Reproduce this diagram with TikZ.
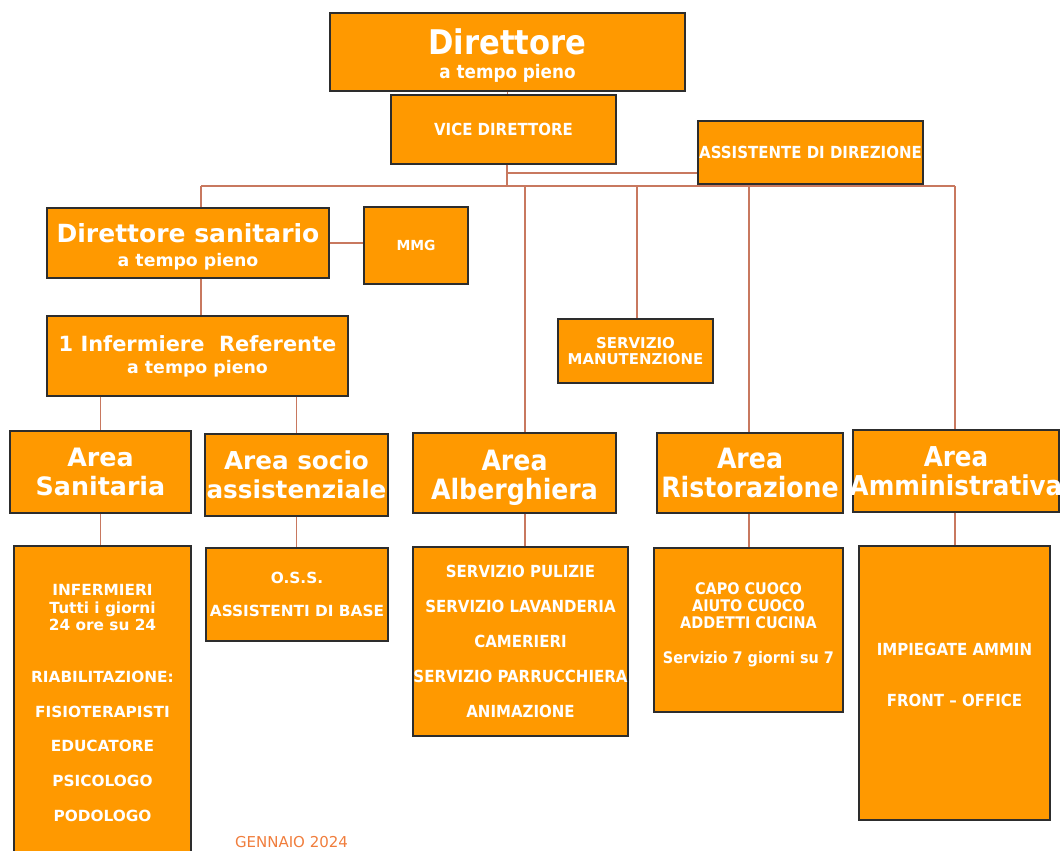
\documentclass[tikz,border=0pt]{standalone}
\usepackage{fontspec}
\usepackage{tikz}
\newfontfamily\verd{DejaVu Sans}
\newfontfamily\tah{DejaVu Sans Condensed}
\definecolor{boxfill}{RGB}{255,153,0}
\definecolor{boxline}{RGB}{45,45,45}
\definecolor{linkcol}{RGB}{200,120,95}
\definecolor{datecol}{RGB}{240,125,60}

\begin{document}
\begin{tikzpicture}[x=0.75pt,y=0.75pt,yscale=-1,xscale=1,
        box/.style={draw=boxline, fill=boxfill, line width=1pt, inner sep=0pt, align=center, text=white},
        boxsize/.style 2 args={minimum width=#1*0.75pt, minimum height=#2*0.75pt},
        link/.style={draw=linkcol, line width=0.9pt}]
        \useasboundingbox (0,0) rectangle (1062,850);
        \node [box, boxsize={355}{78}, font=\tah\bfseries\fontsize{25.5}{18}\selectfont] (dir) at (507.5,52) {\rule{0pt}{25pt}Direttore\\{\fontsize{14}{18}\selectfont a tempo pieno}};
        \node [box, boxsize={225}{69}, font=\tah\bfseries\fontsize{12.5}{15}\selectfont] (vice) at (503.5,129.5) {VICE DIRETTORE};
        \node [box, boxsize={225}{63}, font=\tah\bfseries\fontsize{12.5}{15}\selectfont] (assist) at (810.5,152.5) {ASSISTENTE DI DIREZIONE};
        \node [box, boxsize={282}{70}, font=\verd\bfseries\fontsize{18.75}{18}\selectfont] (dirsan) at (188,243) {\rule{0pt}{20pt}Direttore sanitario\\{\fontsize{13}{18}\selectfont a tempo pieno}};
        \node [box, boxsize={104}{77}, font=\verd\bfseries\fontsize{10.4}{12}\selectfont] (mmg) at (416,245.5) {MMG};
        \node [box, boxsize={301}{80}, font=\verd\bfseries\fontsize{15.7}{16.5}\selectfont] (inf) at (197.5,356) {1 Infermiere\ \ Referente\\{\fontsize{13}{16.5}\selectfont a tempo pieno}};
        \node [box, boxsize={155}{64}, font=\verd\bfseries\fontsize{11.2}{11.5}\selectfont] (man) at (635.5,351) {SERVIZIO\\MANUTENZIONE};
        \node [box, boxsize={181}{82}, font=\verd\bfseries\fontsize{19}{21.75}\selectfont] (sanit) at (100.5,472) {Area\\Sanitaria};
        \node [box, boxsize={183}{82}, font=\verd\bfseries\fontsize{18.5}{21.75}\selectfont] (socio) at (296.5,475) {Area socio\\\makebox[0pt]{assistenziale}};
        \node [box, boxsize={203}{80}, font=\tah\bfseries\fontsize{21}{21.75}\selectfont] (alb) at (514.5,473) {\rule{0pt}{22pt}Area\\Alberghiera};
        \node [box, boxsize={186}{80}, font=\tah\bfseries\fontsize{21}{21.75}\selectfont] (ris) at (750,473) {Area\\\makebox[0pt]{Ristorazione}};
        \node [box, boxsize={206}{82}, font=\tah\bfseries\fontsize{20.5}{21.75}\selectfont] (amm) at (956,471) {Area\\\makebox[0pt]{Amministrativa}};
        \node [box, boxsize={177}{314}, font=\verd\bfseries\fontsize{11.5}{13}\selectfont] (inflist) at (102.5,703) {INFERMIERI\\Tutti i giorni\\24 ore su 24\\[26pt]RIABILITAZIONE:\\[13pt]FISIOTERAPISTI\\[13pt]EDUCATORE\\[13pt]PSICOLOGO\\[13pt]PODOLOGO};
        \node [box, boxsize={182}{93}, font=\verd\bfseries\fontsize{11.5}{13}\selectfont] (osslist) at (297,594.5) {O.S.S.\\[11.75pt]\makebox[0pt]{ASSISTENTI DI BASE}};
        \node [box, boxsize={215}{189}, font=\tah\bfseries\fontsize{12.5}{26.25}\selectfont] (alblist) at (520.5,641.5) {SERVIZIO PULIZIE\\SERVIZIO LAVANDERIA\\CAMERIERI\\\makebox[0pt]{SERVIZIO PARRUCCHIERA}\\ANIMAZIONE};
        \node [box, boxsize={189}{164}, font=\tah\bfseries\fontsize{12}{12.75}\selectfont] (rislist) at (748.5,630) {CAPO CUOCO\\AIUTO CUOCO\\ADDETTI CUCINA\\[13.5pt]Servizio 7 giorni su 7\rule[-11pt]{0pt}{11pt}};
        \node [box, boxsize={191}{274}, font=\tah\bfseries\fontsize{12.5}{38.25}\selectfont] (ammlist) at (954.5,683) {IMPIEGATE AMMIN\\FRONT – OFFICE\rule[-12pt]{0pt}{12pt}};
        \node [text=datecol, font=\verd\fontsize{11.25}{13}\selectfont] (date) at (291.5,842) {GENNAIO 2024};
        \coordinate (bus-l) at (201,186);
        \coordinate (b-alb) at (525,186);
        \coordinate (b-man) at (637,186);
        \coordinate (b-ris) at (749,186);
        \coordinate (bus-r) at (955,186);
        \coordinate (a-join) at (507,173);
        \draw [link] (dir.south) -- (dir.south |- vice.north);
        \draw [link] (a-join |- vice.south) -- (a-join |- bus-l);
        \draw [link] (a-join) -- (a-join -| assist.west);
        \draw [link] (bus-l) -- (bus-r);
        \draw [link] (bus-l) -- (bus-l |- dirsan.north);
        \draw [link] (b-alb) -- (b-alb |- alb.north);
        \draw [link] (b-man) -- (b-man |- man.north);
        \draw [link] (b-ris) -- (b-ris |- ris.north);
        \draw [link] (bus-r) -- (bus-r |- amm.north);
        \draw [link] (dirsan.east) -- (dirsan.east -| mmg.west);
        \draw [link] (dirsan.south -| bus-l) -- (inf.north -| bus-l);
        \draw [link] (inf.south -| sanit.north) -- (sanit.north);
        \draw [link] (inf.south -| socio.north) -- (socio.north);
        \draw [link] (sanit.south) -- (sanit.south |- inflist.north);
        \draw [link] (socio.south) -- (socio.south |- osslist.north);
        \draw [link] (alb.south -| b-alb) -- (alblist.north -| b-alb);
        \draw [link] (ris.south -| b-ris) -- (rislist.north -| b-ris);
        \draw [link] (amm.south -| bus-r) -- (ammlist.north -| bus-r);
\end{tikzpicture}
\end{document}
